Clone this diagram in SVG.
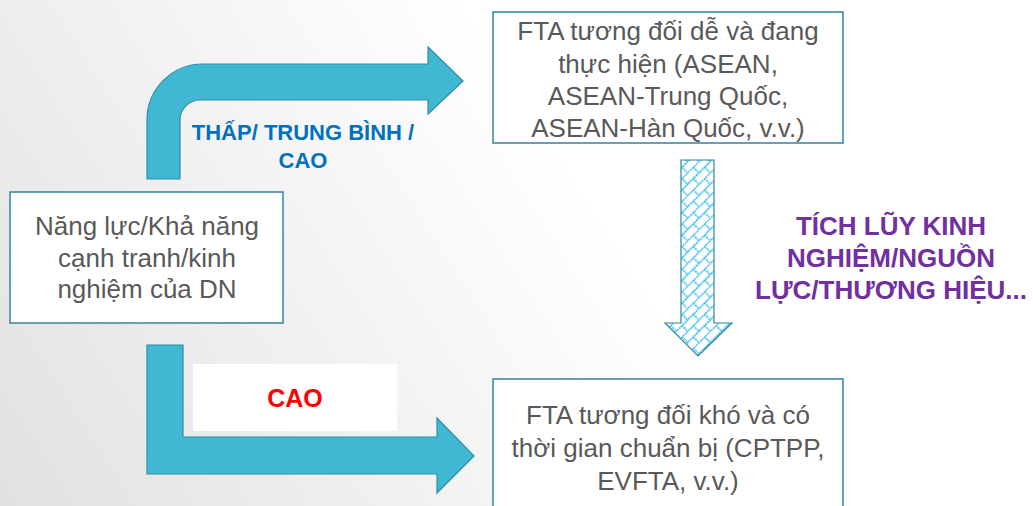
<svg xmlns="http://www.w3.org/2000/svg" width="1033" height="506" viewBox="0 0 1033 506">
<defs>
<linearGradient id="bg" gradientUnits="userSpaceOnUse" x1="0" y1="506" x2="800" y2="0">
<stop offset="0" stop-color="#e1e1e1"/>
<stop offset="0.7" stop-color="#ffffff"/>
<stop offset="1" stop-color="#ffffff"/>
</linearGradient>
<pattern id="brick" patternUnits="userSpaceOnUse" width="16" height="16" patternTransform="rotate(-45)">
<rect width="16" height="16" fill="#ffffff"/>
<path d="M0,0.5H16M0,8.5H16M4,0.5V8.5M12,8.5V16.5" stroke="#0aaeea" stroke-width="1.3" fill="none" stroke-dasharray="1.8 0.8"/>
</pattern>
<style>
.box{fill:#ffffff;stroke:#31859c;stroke-width:1.5}
.t{font-family:"Liberation Sans",Arial,sans-serif;font-size:26px;fill:#595959;text-anchor:middle}
.arr{fill:#41b8d3;stroke:#2f8ea4;stroke-width:1.2}
.b{font-family:"Liberation Sans",Arial,sans-serif;font-weight:bold;text-anchor:middle}
</style>
</defs>
<rect x="0" y="0" width="1033" height="506" fill="url(#bg)"/>
<g id="connectors">
<path class="arr" d="M147,179 L147,120 A56,56 0 0 1 203,64 L428,64 L428,47 L463,81 L428,114 L428,100 L200,100 A20,20 0 0 0 180,120 L180,179 Z"/>
<path class="arr" d="M147,345 L183,345 L183,437 L437,437 L437,418 L474,456 L437,493 L437,474 L147,474 Z"/>
<path d="M681,160 L714,160 L714,323 L732,323 L698,356 L665,323 L681,323 Z" fill="url(#brick)" stroke="#31859c" stroke-width="1.2"/>
<text class="b" x="303" y="140" font-size="22" fill="#0070c0">THẤP/ TRUNG BÌNH /</text>
<text class="b" x="303" y="168" font-size="22" fill="#0070c0">CAO</text>
<rect x="193" y="364" width="204" height="67" fill="#ffffff"/>
<text class="b" x="295" y="407" font-size="25" fill="#ff0000">CAO</text>
<text class="b" x="891" y="235" font-size="26" fill="#7030a0">TÍCH LŨY KINH</text>
<text class="b" x="891" y="267" font-size="26" fill="#7030a0">NGHIỆM/NGUỒN</text>
<text class="b" x="891" y="299" font-size="26" fill="#7030a0">LỰC/THƯƠNG HIỆU...</text>
</g>
<g id="node-capability">
<rect class="box" x="10" y="192" width="273" height="131"/>
<text class="t" x="147" y="235">Năng lực/Khả năng</text>
<text class="t" x="147" y="267">cạnh tranh/kinh</text>
<text class="t" x="147" y="298">nghiệm của DN</text>
</g>
<g id="node-easy-fta">
<rect class="box" x="493" y="12" width="350" height="131"/>
<text class="t" x="668" y="40">FTA tương đối dễ và đang</text>
<text class="t" x="668" y="73">thực hiện (ASEAN,</text>
<text class="t" x="668" y="105">ASEAN-Trung Quốc,</text>
<text class="t" x="668" y="137">ASEAN-Hàn Quốc, v.v.)</text>
</g>
<g id="node-hard-fta">
<rect class="box" x="493" y="379" width="350" height="140"/>
<text class="t" x="668" y="424">FTA tương đối khó và có</text>
<text class="t" x="668" y="457">thời gian chuẩn bị (CPTPP,</text>
<text class="t" x="668" y="490">EVFTA, v.v.)</text>
</g>
</svg>
